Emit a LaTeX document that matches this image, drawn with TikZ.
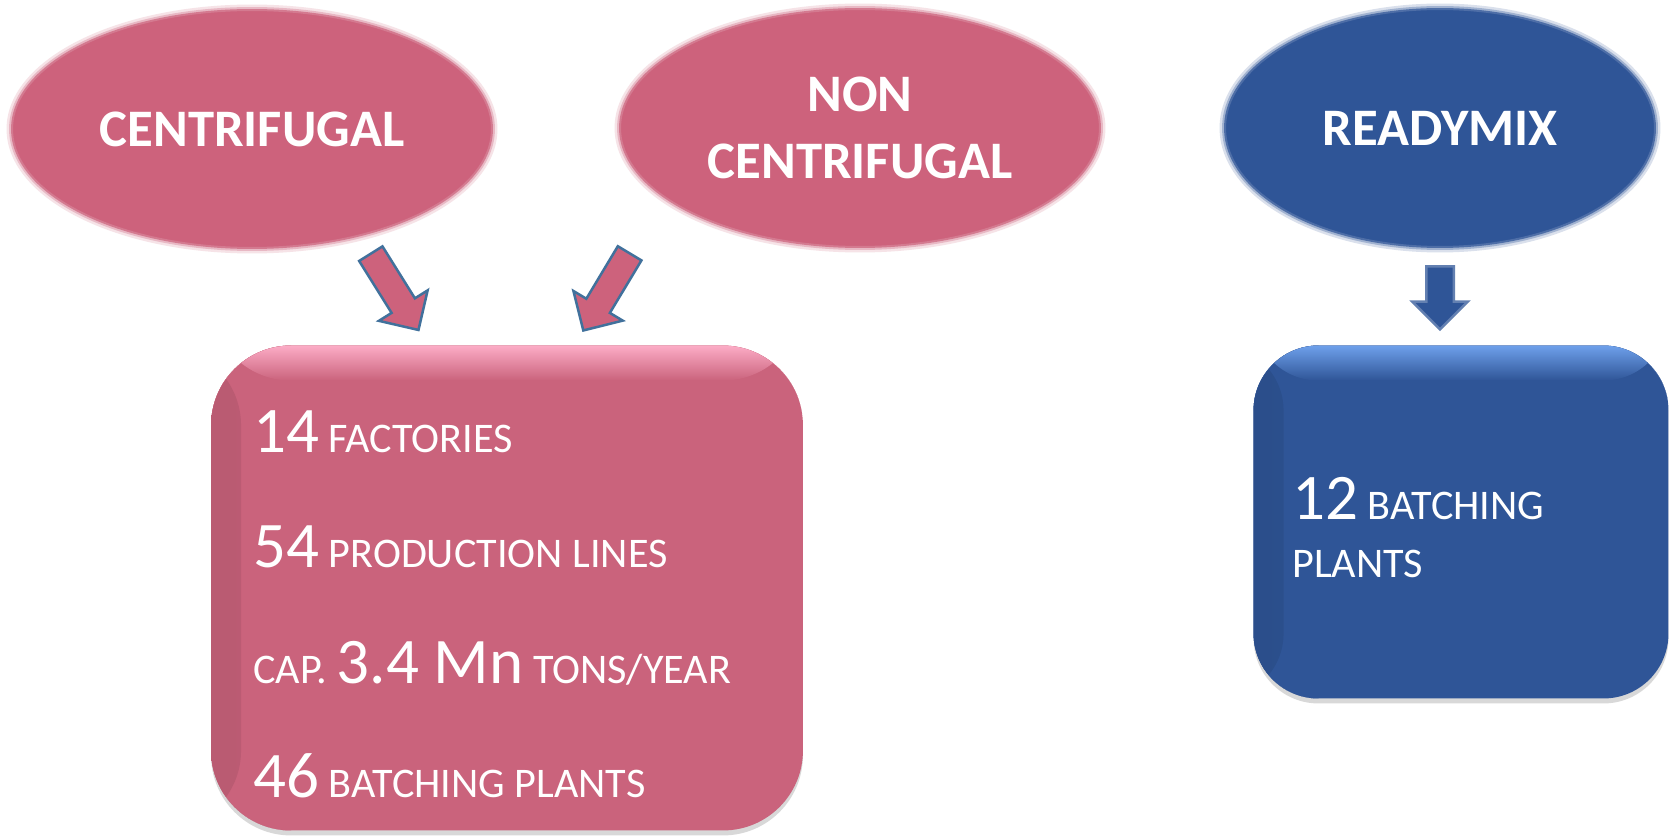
\documentclass[tikz,border=0pt]{standalone}
\usepackage{fontspec}
\setmainfont{Carlito}
\usetikzlibrary{shapes.geometric, shapes.arrows, shadows, positioning}

\definecolor{pinkc}{RGB}{205,98,124}
\definecolor{pinkbox}{RGB}{202,99,124}
\definecolor{pinkhi}{RGB}{252,172,198}
\definecolor{bluec}{RGB}{47,85,151}
\definecolor{bluehi}{RGB}{110,160,235}
\definecolor{arrline}{RGB}{65,113,156}

\newcommand{\numtxt}[1]{{\fontsize{37}{40}\selectfont #1}}
\newcommand{\wordtxt}[1]{{\fontsize{24}{28}\selectfont #1}}

\tikzset{
  blob/.style={ellipse, fill=#1, draw=#1!85, line width=0.04cm,
    preaction={draw=#1!18, line width=0.22cm},
    preaction={draw=#1!45, line width=0.12cm},
    inner sep=0pt, text=white, align=center,
    font=\bfseries\fontsize{30}{38}\selectfont},
  panel/.style 2 args={rectangle, fill=#1, inner sep=0pt,
    drop shadow={shadow xshift=0cm, shadow yshift=-0.1cm, opacity=.3},
    path picture={
      \fill[left color=#1!92!black, right color=#1]
        (path picture bounding box.north west) rectangle ([xshift=0.6cm]path picture bounding box.south west);
      \fill[top color=#2, bottom color=#1]
        (path picture bounding box.north west) rectangle ([yshift=-0.7cm]path picture bounding box.north east);
    }},
  bigarrow/.style={single arrow, fill=#1, draw=arrline, line width=0.05cm,
    inner sep=0pt, text height=0.25cm, text depth=0.25cm,
    single arrow head extend=0.3cm},
  linetxt/.style={anchor=base west, inner sep=0pt, text=white}
}

\begin{document}
\begin{tikzpicture}[x=0.02cm, y=-0.02cm]
  \fill[white] (0,0) rectangle (1675,837);
  \useasboundingbox (0,0) rectangle (1675,837);

  % ellipses
  \node[blob=pinkc, minimum width=9.6cm, minimum height=4.76cm] (cent) at (252,129) {CENTRIFUGAL};
  \node[blob=pinkc, minimum width=9.6cm, minimum height=4.76cm] (noncent) at (860,128) {NON\\CENTRIFUGAL};
  \node[blob=bluec, minimum width=8.6cm, minimum height=4.76cm] (ready) at (1440,128) {READYMIX};

  % boxes
  \node[panel={pinkbox}{pinkhi}, rounded corners=1.6cm, minimum width=11.84cm, minimum height=9.7cm] (factbox) at (507,588) {};
  \node[panel={bluec}{bluehi}, rounded corners=1.3cm, minimum width=8.3cm, minimum height=7.06cm] (mixbox) at (1461,522) {};

  % arrows
  \node[bigarrow=pinkc, rotate=-58, minimum height=1.8cm] (arrcent) at (391,286) {};
  \node[bigarrow=pinkc, rotate=-121, minimum height=1.8cm] (arrnon) at (610,286) {};
  \node[bigarrow=bluec, draw=bluec!75!white, rotate=-90, minimum height=1.26cm, single arrow head extend=0.28cm] (arrready) at (1440,291) {};

  % texts
  \node[linetxt] (fact) at (253,452) {\numtxt{14}\wordtxt{ FACTORIES}};
  \node[linetxt] (lines) at (253,567) {\numtxt{54}\wordtxt{ PRODUCTION LINES}};
  \node[linetxt] (cap) at (253,683) {\wordtxt{CAP. }{\fontsize{37}{42}\selectfont 3.4 Mn}\wordtxt{ TONS/YEAR}};
  \node[linetxt] (plants) at (253,797) {\numtxt{46}\wordtxt{ BATCHING PLANTS}};
  \node[linetxt] (mix) at (1292,519) {\numtxt{12}\wordtxt{ BATCHING}};
  \node[linetxt] (mixb) at (1292,577) {\wordtxt{PLANTS}};
\end{tikzpicture}
\end{document}
